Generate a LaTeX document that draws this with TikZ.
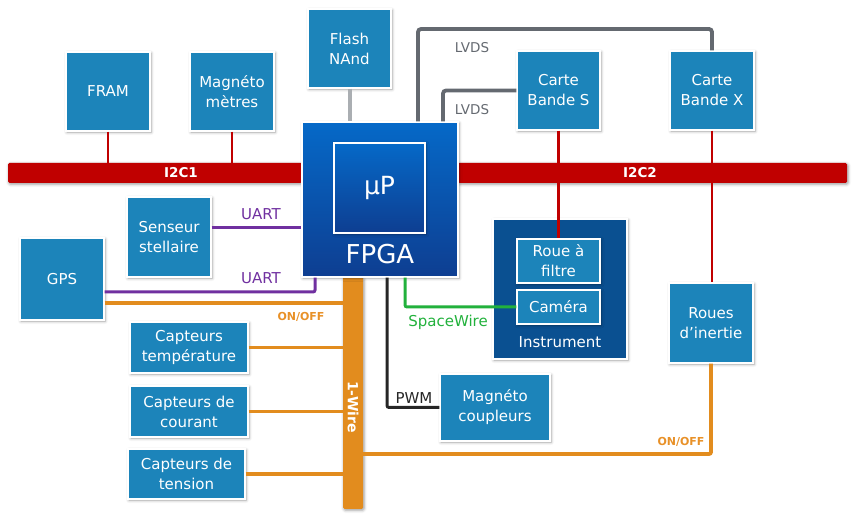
\documentclass[tikz,border=0pt]{standalone}
\usepackage{fontspec}
\setmainfont{DejaVu Sans}
\usetikzlibrary{shadows.blur}
\definecolor{nodeblue}{RGB}{28,132,186}
\definecolor{barred}{RGB}{192,0,0}
\definecolor{barorange}{RGB}{226,140,30}
\definecolor{onofftxt}{RGB}{232,145,40}
\definecolor{uartpurple}{RGB}{112,48,160}
\definecolor{swgreen}{RGB}{34,177,60}
\definecolor{lvdsgray}{RGB}{100,105,112}
\definecolor{flashgray}{RGB}{170,174,178}
\definecolor{fpgatop}{RGB}{5,105,200}
\definecolor{fpgabot}{RGB}{14,62,145}
\definecolor{instrblue}{RGB}{10,80,145}
\begin{document}
\begin{tikzpicture}[x=1pt,y=-1pt,
  shad/.style={blur shadow={shadow xshift=1pt, shadow yshift=-1.2pt, shadow blur radius=3pt, shadow opacity=40}},
  box/.style={draw=white, line width=1.4pt, fill=nodeblue, text=white, align=center, inner sep=0pt,
    font=\fontsize{15}{20}\selectfont, shad},
  fpgabox/.style={draw=white, line width=1.4pt, top color=fpgatop, bottom color=fpgabot, shad},
  instrbox/.style={draw=white, line width=1.4pt, fill=instrblue, shad},
  redbar/.style={fill=barred, rounded corners=1.5pt, inner sep=0pt, shad},
  orangebar/.style={fill=barorange, rounded corners=1.5pt, inner sep=0pt, shad},
  barlabel/.style={text=white, font=\bfseries\fontsize{13.5}{15}\selectfont, inner sep=0pt},
  whitelabel/.style={text=white, inner sep=0pt},
  redline/.style={draw=barred, line width=2.3pt},
  lvdsline/.style={draw=lvdsgray, line width=3.8pt, rounded corners=3pt},
  flashline/.style={draw=flashgray, line width=4pt},
  uartline/.style={draw=uartpurple, line width=3pt, rounded corners=2pt},
  orangeline/.style={draw=barorange, line width=3.8pt, rounded corners=2pt},
  swline/.style={draw=swgreen, line width=3pt, rounded corners=2pt},
  pwmline/.style={draw=black!85, line width=3pt, rounded corners=2pt},
  linelabel/.style={inner sep=0pt, font=\fontsize{15}{17}\selectfont},
  onofflabel/.style={inner sep=0pt, text=onofftxt, font=\bfseries\fontsize{11}{13}\selectfont}
]
\useasboundingbox (0,0) rectangle (855,518);

% bars
\node[redbar, minimum width=294pt, minimum height=20pt] (i2c1) at (155,173) {};
\node[redbar, minimum width=389pt, minimum height=20pt] (i2c2) at (652.5,173) {};
\node[orangebar, minimum width=20pt, minimum height=232pt] (onewire) at (353,393) {};

% boxes
\node[box, minimum width=84pt, minimum height=79pt] (fram) at (108,91.5) {FRAM};
\node[box, minimum width=84pt, minimum height=79pt] (magm) at (232,91.5) {Magnéto\\mètres};
\node[box, minimum width=83pt, minimum height=79pt] (flash) at (349.5,48.5) {Flash\\NAnd};
\node[box, minimum width=83pt, minimum height=79pt] (cartes) at (558.5,90.5) {Carte\\Bande S};
\node[box, minimum width=84pt, minimum height=79pt] (cartex) at (712,90.5) {Carte\\Bande X};
\node[box, minimum width=84pt, minimum height=80pt] (senseur) at (169,237) {Senseur\\stellaire};
\node[box, minimum width=84pt, minimum height=82pt] (gps) at (62,279) {GPS};
\node[box, minimum width=118pt, minimum height=51pt] (temp) at (189,347.5) {Capteurs\\température};
\node[box, minimum width=118pt, minimum height=51pt] (courant) at (189,411.5) {Capteurs de\\courant};
\node[box, minimum width=117pt, minimum height=50pt] (tension) at (186.5,474) {Capteurs de\\tension};
\node[box, minimum width=84pt, minimum height=80pt] (roues) at (711,323) {Roues\\d’inertie};
\node[box, minimum width=110pt, minimum height=67pt] (magc) at (495,407.5) {Magnéto\\coupleurs};

% instrument
\node[instrbox, minimum width=134pt, minimum height=140pt] (instr) at (560,289) {};
\node[box, minimum width=83pt, minimum height=44pt] (roue) at (558.5,261) {Roue à\\filtre};
\node[box, minimum width=83pt, minimum height=34pt] (camera) at (558.5,307) {Caméra};
\node[whitelabel, font=\fontsize{15}{17}\selectfont] (instrlbl) at (560,342) {Instrument};

% FPGA
\node[fpgabox, minimum width=156pt, minimum height=155pt] (fpga) at (380,199.5) {};
\node[fpgabox, minimum width=91pt, minimum height=90pt, text=white, font=\fontsize{25}{28}\selectfont] (up) at (379.5,188) {µP};
\node[whitelabel, font=\fontsize{26}{28}\selectfont] (fpgalbl) at (380,254) {FPGA};

% coordinates
\coordinate (lvdsTop) at (418,29);
\coordinate (l1) at ([xshift=38pt]fpga.north);
\coordinate (l2) at ([xshift=63pt]fpga.north);
\coordinate (u1) at ([yshift=9pt]senseur.east);
\coordinate (u2) at ([yshift=-13pt]gps.east);
\coordinate (u2f) at ([xshift=-65pt]fpga.south);
\coordinate (o1) at ([yshift=-24pt]gps.east);
\coordinate (o2) at ([yshift=-61pt]onewire.east);
\coordinate (sw) at ([xshift=25pt]fpga.south);
\coordinate (pw) at ([xshift=7pt]fpga.south);

% connectors
\draw[redline] (fram.south) -- (fram.south |- i2c1.north);
\draw[redline] (magm.south) -- (magm.south |- i2c1.north);
\draw[redline] (cartes.south) -- (roue.north);
\draw[redline] (cartex.south) -- (cartex.south |- roues.north);
\draw[flashline] (flash.south) -- (flash.south |- fpga.north);
\draw[lvdsline] (l1) -- (lvdsTop) -| (cartex.north);
\draw[lvdsline] (l2) |- (cartes.west);
\draw[uartline] (u1) -- (u1 -| fpga.west);
\draw[uartline] (u2) -| (u2f);
\draw[orangeline] (o1) -- (o1 -| onewire.west);
\draw[orangeline] (temp.east) -- (temp.east -| onewire.west);
\draw[orangeline] (courant.east) -- (courant.east -| onewire.west);
\draw[orangeline] (tension.east) -- (tension.east -| onewire.west);
\draw[orangeline] (o2) -| (roues.south);
\draw[swline] (sw) |- (camera.west);
\draw[pwmline] (pw) |- (magc.west);

% labels
\node[barlabel] (i2c1lbl) at (181,173) {I2C1};
\node[barlabel] (i2c2lbl) at (640,173) {I2C2};
\node[barlabel, font=\bfseries\fontsize{14}{16}\selectfont, rotate=-90] (owlbl) at (353,407) {1-Wire};
\node[linelabel, text=lvdsgray, font=\fontsize{13.5}{15}\selectfont] (lvds1) at (472,48) {LVDS};
\node[linelabel, text=lvdsgray, font=\fontsize{13.5}{15}\selectfont] (lvds2) at (472,110) {LVDS};
\node[linelabel, text=uartpurple] (uart1) at (261,214) {UART};
\node[linelabel, text=uartpurple] (uart2) at (261,278) {UART};
\node[onofflabel] (onoff1) at (301,317) {ON/OFF};
\node[onofflabel] (onoff2) at (681,442) {ON/OFF};
\node[linelabel, text=swgreen] (swlbl) at (448,322) {SpaceWire};
\node[linelabel, text=black!85] (pwmlbl) at (414,398) {PWM};
\end{tikzpicture}
\end{document}
